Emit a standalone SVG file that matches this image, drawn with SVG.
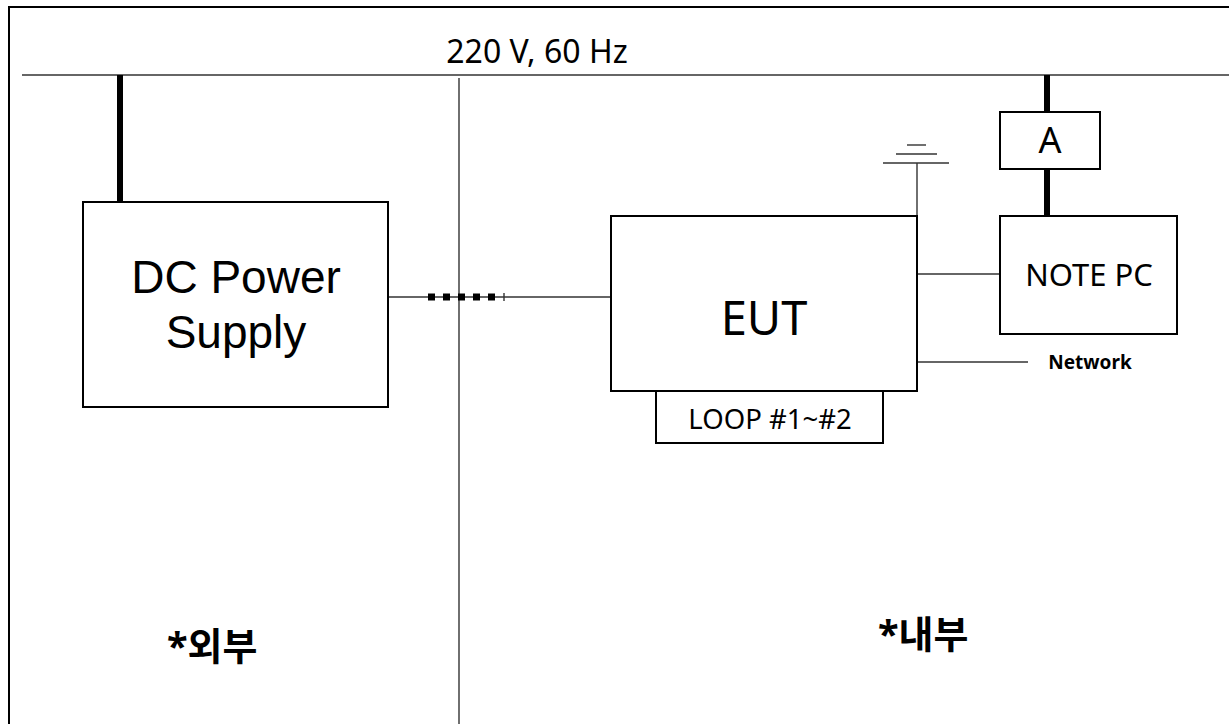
<svg xmlns="http://www.w3.org/2000/svg" width="1229" height="724" viewBox="0 0 1229 724">
<style>
.box{fill:#fff;stroke:#000;stroke-width:2}
.thin{stroke:#333;stroke-width:1.4;fill:none}
.thick{stroke:#000;stroke-width:6;fill:none}
.t{font-family:"Noto Sans","Liberation Sans",sans-serif;fill:#000}
.l{font-family:"Liberation Sans",Arial,sans-serif;fill:#000}
.k{font-family:"Noto Sans","Noto Sans CJK KR",sans-serif;font-weight:bold;fill:#000}
</style>
<rect x="0" y="0" width="1229" height="724" fill="#fff"/>
<rect x="9" y="7" width="1240" height="740" fill="none" stroke="#000" stroke-width="2"/>
<g id="mains">
<line class="thin" x1="22" y1="75" x2="1229" y2="75"/>
<text class="t" x="537" y="63" font-size="32" text-anchor="middle">220 V, 60 Hz</text>
</g>
<g id="divider">
<line class="thin" x1="459" y1="78" x2="459" y2="724"/>
</g>
<g id="connectors">
<line class="thick" x1="120" y1="75" x2="120" y2="202"/>
<line class="thin" x1="388" y1="297" x2="611" y2="297"/>
<line stroke="#000" stroke-width="7" stroke-dasharray="7 8" x1="428" y1="297" x2="497" y2="297"/>
<line class="thin" x1="504" y1="293" x2="504" y2="301"/>
<line class="thin" x1="917" y1="274" x2="1000" y2="274"/>
<line class="thin" x1="917" y1="362" x2="1028" y2="362"/>
<line class="thin" x1="917" y1="163" x2="917" y2="216"/>
<line class="thick" x1="1047" y1="75" x2="1047" y2="112"/>
<line class="thick" x1="1047" y1="169" x2="1047" y2="216"/>
</g>
<g id="ground">
<line class="thin" x1="883" y1="163" x2="949" y2="163"/>
<line class="thin" x1="896" y1="154" x2="937" y2="154"/>
<line class="thin" x1="907" y1="145" x2="926" y2="145"/>
</g>
<g id="dc-power-supply">
<rect class="box" x="83" y="202" width="305" height="205"/>
<text class="l" x="236" y="293" font-size="46" text-anchor="middle">DC Power</text>
<text class="l" x="236" y="348" font-size="46" text-anchor="middle">Supply</text>
</g>
<g id="eut">
<rect class="box" x="611" y="216" width="306" height="175"/>
<text class="t" x="764" y="335" font-size="47" text-anchor="middle">EUT</text>
</g>
<g id="loop">
<rect class="box" x="656" y="391" width="227" height="52"/>
<text class="t" x="770" y="429" font-size="27.5" text-anchor="middle">LOOP #1~#2</text>
</g>
<g id="note-pc">
<rect class="box" x="1000" y="216" width="177" height="118"/>
<text class="t" x="1089" y="286" font-size="31" text-anchor="middle">NOTE PC</text>
</g>
<g id="a-box">
<rect class="box" x="1000" y="112" width="100" height="57"/>
<text class="t" x="1050" y="153" font-size="36" text-anchor="middle">A</text>
</g>
<g id="network">
<text class="t" x="1090" y="369" font-size="19" font-weight="bold" text-anchor="middle">Network</text>
</g>
<g id="labels">
<text class="k" x="167" y="660" font-size="38">*외부</text>
<text class="k" x="878" y="648" font-size="38">*내부</text>
</g>
</svg>
